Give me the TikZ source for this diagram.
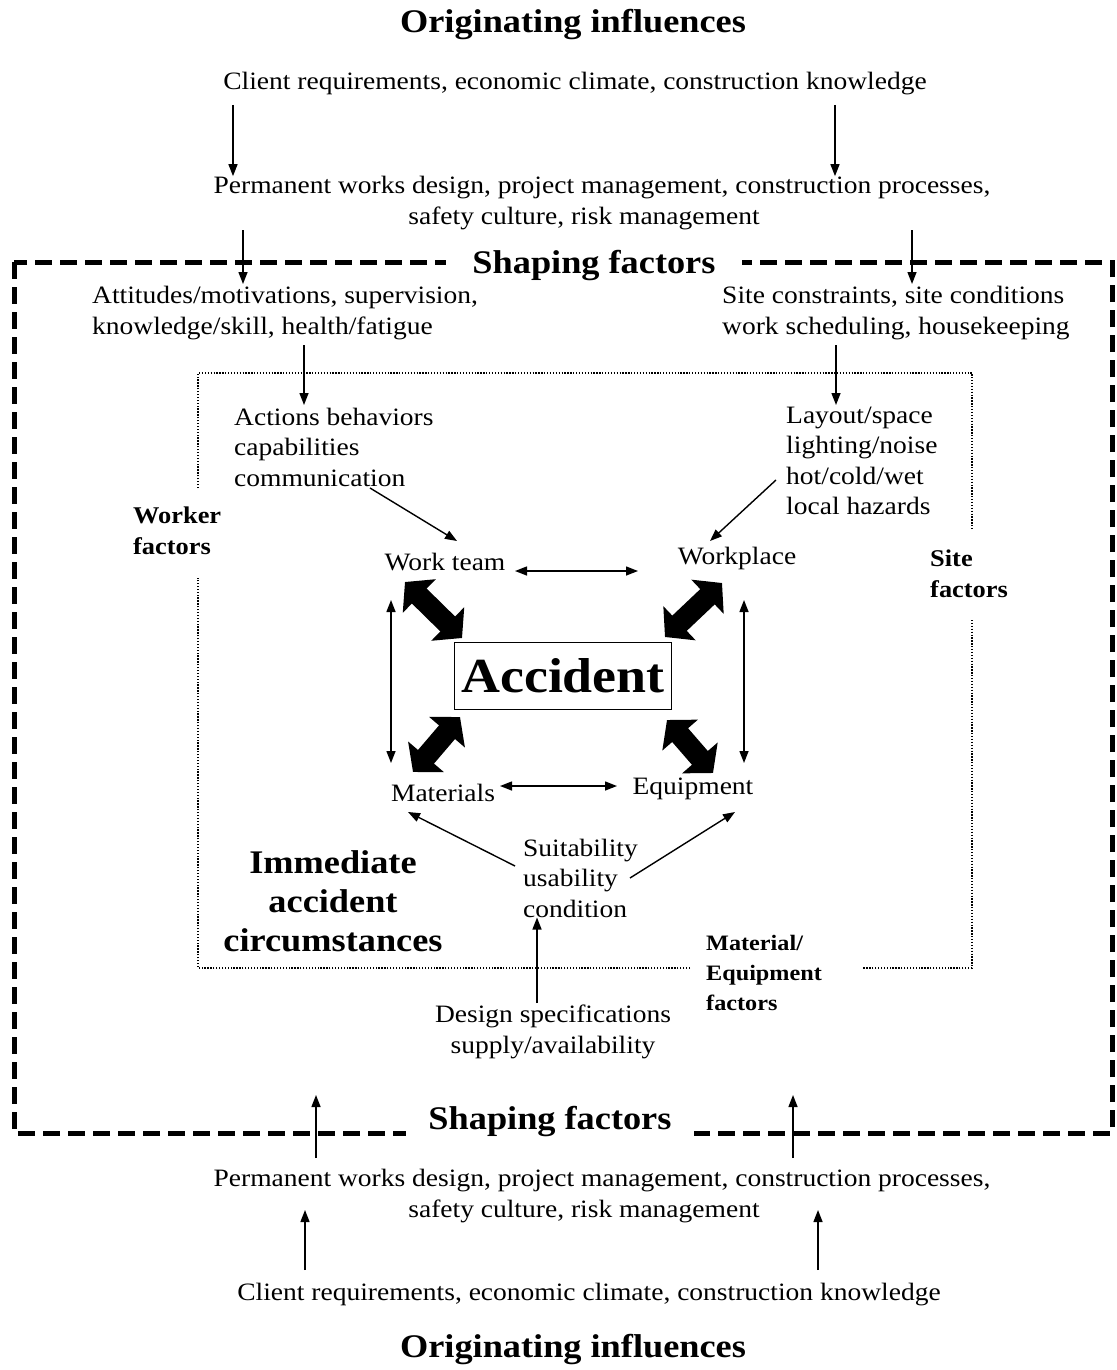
\documentclass[tikz,border=0pt]{standalone}
\usepackage{fontspec}
\setmainfont[FakeStretch=1.1]{Liberation Serif}
\usetikzlibrary{arrows.meta}
\tikzset{
  txt/.style={font=\fontsize{25}{30.5}\selectfont, inner sep=0pt},
  head/.style={font=\bfseries\fontsize{33}{38}\selectfont, inner sep=0pt},
  lbl/.style={font=\bfseries\fontsize{24}{30.5}\selectfont, inner sep=0pt, align=left},
  arr/.style={line width=1.4pt, -{Triangle[width=9pt,length=12pt]}},
  darr/.style={line width=1.4pt, {Triangle[width=9pt,length=12pt]}-{Triangle[width=9pt,length=12pt]}},
  bigarr/.style={line width=21pt, {Triangle[width=46pt,length=20pt]}-{Triangle[width=46pt,length=20pt]}},
  outerbox/.style={line width=5pt, dash pattern=on 17pt off 8pt},
  innerbox/.style={line width=1.3pt, dash pattern=on 1.3pt off 1.6pt},
}
\begin{document}
\begin{tikzpicture}[x=1pt,y=-1pt]
\useasboundingbox (0,0) rectangle (1116,1370);

% shaping-factors frame
\draw[outerbox] (14,262) rectangle (1112,1133);

% immediate-circumstances frame, open where the factor labels sit
\draw[innerbox] (198,488) -- (198,373) -- (972,373) -- (972,530);
\draw[innerbox] (972,620) -- (972,968) -- (862,968);
\draw[innerbox] (690,968) -- (198,968) -- (198,578);

% top: originating influences
\node[head] (oiTop) at (573,25) {Originating influences};
\node[txt] (crTop) at (575,84) {Client requirements, economic climate, construction knowledge};
\node[txt, align=center] (pwTop) at (602,203) {Permanent works design, project management, construction processes,\\ safety culture, risk management\hspace*{36pt}};
\node[head, fill=white, inner xsep=26pt, inner ysep=4pt] (sfTop) at (594,266) {Shaping factors};

\node[txt, anchor=west, align=left] (att) at (92,313) {Attitudes/motivations, supervision,\\ knowledge/skill, health/fatigue};
\node[txt, anchor=west, align=left] (site) at (722,313) {Site constraints, site conditions\\ work scheduling, housekeeping};

\node[txt, anchor=west, align=left] (act) at (234,447) {Actions behaviors\\ capabilities\\ communication};
\node[txt, anchor=west, align=left] (lay) at (786,461) {Layout/space\\ lighting/noise\\ hot/cold/wet\\ local hazards};

\node[lbl, anchor=west] (wf) at (133,531) {Worker\\ factors};
\node[lbl, anchor=west] (sitef) at (930,574) {Site\\ factors};

% the four immediate elements around the accident
\node[txt] (wt) at (445,562) {Work team};
\node[txt] (wp) at (737,558) {Workplace};
\node[txt] (mat) at (443,793) {Materials};
\node[txt] (eq) at (693,789) {Equipment};
\node[draw, line width=1.6pt, minimum width=217pt, minimum height=67pt, inner sep=0pt,
      font=\bfseries\fontsize{49}{56}\selectfont] (acc) at (563,676) {Accident};

\node[txt, anchor=west, align=left] (suit) at (523,878) {Suitability\\ usability\\ condition};
\node[head, align=center, font=\bfseries\fontsize{33}{39}\selectfont] (imm) at (333,901) {Immediate\\ accident\\ circumstances};
\node[lbl, anchor=west, font=\bfseries\fontsize{22}{30}\selectfont] (meq) at (706,973) {Material/\\ Equipment\\ factors};
\node[txt, align=center] (ds) at (553,1032) {Design specifications\\ supply/availability};

% bottom: originating influences
\node[head, fill=white, inner xsep=22pt, inner ysep=4pt] (sfBot) at (550,1122) {Shaping factors};
\node[txt, align=center] (pwBot) at (602,1196) {Permanent works design, project management, construction processes,\\ safety culture, risk management\hspace*{36pt}};
\node[txt] (crBot) at (589,1295) {Client requirements, economic climate, construction knowledge};
\node[head] (oiBot) at (573,1350) {Originating influences};

% connector end points
\coordinate (inL) at (316,1095);
\coordinate (inR) at (793,1095);

% top chain of influence
\draw[arr] (233,105) -- (pwTop.north -| 233,0);
\draw[arr] (835,105) -- (pwTop.north -| 835,0);
\draw[arr] (243,230) -- (243,284);
\draw[arr] (912,230) -- (912,284);
\draw[arr] (304,345) -- (304,405);
\draw[arr] (836,345) -- (836,405);
\draw[arr] (370,488) -- (457,541);
\draw[arr] (776,480) -- (710,541);

% links between the elements
\draw[darr] (515,571) -- (638,571);
\draw[darr] (500,786) -- (617,786);
\draw[darr] (391,600) -- (391,763);
\draw[darr] (744,600) -- (744,763);

% heavy links to the accident
\draw[bigarr] (405,582) -- (462,638);
\draw[bigarr] (722,583) -- (665,637);
\draw[bigarr] (413,772) -- (460,717);
\draw[bigarr] (713,773) -- (667,720);

% material / equipment suitability
\draw[arr] (515,866) -- (408,812);
\draw[arr] (630,878) -- (735,812);
\draw[arr] (537,1003) -- (suit.south -| 537,0);

% bottom chain of influence
\draw[arr] (316,1158) -- (inL);
\draw[arr] (793,1158) -- (inR);
\draw[arr] (305,1270) -- (305,1210);
\draw[arr] (818,1270) -- (818,1210);
\end{tikzpicture}
\end{document}
